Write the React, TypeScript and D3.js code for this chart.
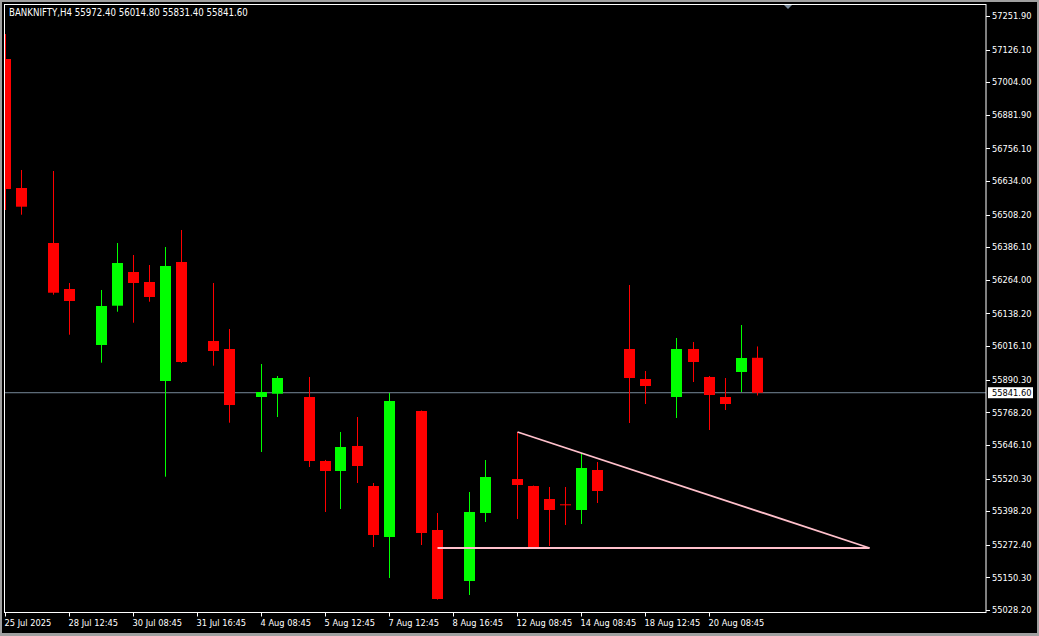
import * as d3 from "d3";

// H4 bars, null = empty slot on the chart
const opens = [57090.9, 56608.0, null, 56402.1, 56229.9, null, 56020.3, 56167.4, 56293.5, 56256.1, 55885.5, 56331.0, null, 56035.2, 56005.3, null, 55825.6, 55837.9, null, 55825.6, 55586.0, 55548.6, 55642.2, 55492.4, 55301.5, null, 55773.2, 55327.7, null, 55136.8, 55391.3, null, 55518.6, 55492.4, 55443.7, 55423.9, 55402.6, 55552.3, null, 56005.3, 55893.0, null, 55825.6, 56005.3, 55900.5, 55825.6, 55919.2, 55972.4];
const highs = [57184.5, 56675.4, null, 56671.6, 56252.4, null, 56226.2, 56402.1, 56357.2, 56319.7, 56387.1, 56450.8, null, 56252.4, 56080.2, null, 55949.1, 55904.2, null, 55900.5, 55590.0, 55694.6, 55750.7, 55503.6, 55840.6, null, 55775.0, 55391.3, null, 55469.9, 55589.7, null, 55694.6, 55494.0, 55488.7, 55488.7, 55615.9, 55582.3, null, 56244.9, 55922.9, null, 56046.5, 56031.5, 55904.2, 55896.7, 56095.1, 56014.8];
const lows = [56525.6, 56508.0, null, 56208.6, 56058.8, null, 55954.0, 56144.9, 56103.7, 56182.3, 55527.2, 55952.9, null, 55942.8, 55729.4, null, 55619.7, 55750.7, null, 55563.5, 55395.1, 55406.3, 55503.6, 55264.0, 55148.0, null, 55271.5, 55067.0, null, 55084.4, 55357.6, null, 55368.9, 55262.0, 55267.8, 55346.4, 55350.1, 55428.8, null, 55728.3, 55799.4, null, 55747.0, 55881.7, 55702.0, 55776.9, 55844.3, 55831.4];
const closes = [56604.3, 56538.0, null, 56216.0, 56185.0, null, 56166.3, 56327.2, 56252.4, 56200.0, 56316.0, 55956.6, null, 55997.8, 55795.6, null, 55844.3, 55896.7, null, 55586.0, 55548.6, 55638.4, 55567.3, 55309.0, 55810.6, null, 55316.5, 55069.4, null, 55395.1, 55526.1, null, 55496.2, 55264.0, 55402.6, 55423.9, 55559.8, 55473.7, null, 55896.7, 55866.8, null, 56005.3, 55956.6, 55833.1, 55799.4, 55971.6, 55841.6];

const timeTickIndex = [0, 4, 8, 12, 16, 20, 24, 28, 32, 36, 40, 44];
const timeTickLabels = ["25 Jul 2025", "28 Jul 12:45", "30 Jul 08:45", "31 Jul 16:45", "4 Aug 08:45", "5 Aug 12:45", "7 Aug 12:45", "8 Aug 16:45", "12 Aug 08:45", "14 Aug 08:45", "18 Aug 12:45", "20 Aug 08:45"];

const priceTicks = [57251.9, 57126.1, 57004.0, 56881.9, 56756.1, 56634.0, 56508.2, 56386.1, 56264.0, 56138.2, 56016.1, 55890.3, 55768.2, 55646.1, 55520.3, 55398.2, 55272.4, 55150.3, 55028.2];

// triangle drawn on the chart: [bar index, price]
const triangle = [
  [32, 55694.6],
  [54, 55260.3],
  [27, 55260.3],
];

const lastPrice = 55841.6;
const header = "BANKNIFTY,H4  55972.40 56014.80 55831.40 55841.60";

const W = 1039;
const H = 636;
const left = 5;
const right = 986;
const top = 5;
const bottom = 612.5;

const font = "'DejaVu Sans Condensed', 'DejaVu Sans', sans-serif";

export default function App() {
  const x = d3.scaleLinear().domain([0, 60]).range([5.5, 965.5]);
  const y = d3.scaleLinear().domain([55028.2, 57251.9]).range([610, 16]);

  const bars = opens.map((o, i) => ({ i, o, h: highs[i], l: lows[i], c: closes[i] })).filter((d) => d.o !== null);

  const triLine = d3
    .line<number[]>()
    .x((d) => x(d[0]))
    .y((d) => y(d[1]));

  return (
    <svg width={W} height={H} style={{ position: "absolute", left: 0, top: 0, display: "block" }}>
      <rect x={0} y={0} width={W} height={H} fill="#a0a0a0" />
      <rect x={2} y={2} width={W - 4} height={H - 5} fill="#000" />
      <defs>
        <clipPath id="plot">
          <rect x={left} y={top} width={right - left} height={bottom - top} />
        </clipPath>
      </defs>

      <g clipPath="url(#plot)">
        <line x1={left} x2={right} y1={y(lastPrice)} y2={y(lastPrice)} stroke="#778899" strokeWidth={1} />
        {bars.map((d) => {
          const col = (d.c as number) > (d.o as number) ? "#00ff00" : "#ff0000";
          const cx = Math.round(x(d.i)) - 0.5;
          const yt = y(Math.max(d.o as number, d.c as number));
          const yb = y(Math.min(d.o as number, d.c as number));
          return (
            <g key={d.i}>
              <line x1={cx} x2={cx} y1={y(d.h as number)} y2={y(d.l as number)} stroke={col} strokeWidth={1} />
              <rect x={cx - 5.5} y={yt} width={11} height={Math.max(1, yb - yt)} fill={col} />
            </g>
          );
        })}
        <path d={triLine([triangle[0], triangle[1]]) ?? ""} stroke="#ffc0cb" strokeWidth={1.8} fill="none" />
        <path d={triLine([triangle[2], triangle[1]]) ?? ""} stroke="#ffc0cb" strokeWidth={2} fill="none" />
      </g>

      {/* frame */}
      <rect x={4.5} y={4.5} width={right - 4.5} height={bottom - 4.5} fill="none" stroke="#fff" strokeWidth={1} />

      {/* shift marker */}
      <path d="M784,5 L792,5 L788,9 Z" fill="#778899" />

      <text x={9} y={16} fill="#fff" fontFamily={font} fontSize={9.6}>
        {header}
      </text>

      {/* price axis */}
      {priceTicks.map((p) => (
        <g key={p}>
          <line x1={right} x2={right + 4} y1={Math.round(y(p)) + 0.5} y2={Math.round(y(p)) + 0.5} stroke="#fff" />
          <text x={992} y={y(p)} dy="0.35em" fill="#fff" fontFamily={font} fontSize={9.2}>
            {p.toFixed(2)}
          </text>
        </g>
      ))}
      <rect x={988} y={y(lastPrice) - 5.5} width={45} height={11} fill="#fff" />
      <text x={992} y={y(lastPrice)} dy="0.35em" fill="#000" fontFamily={font} fontSize={9.2}>
        {lastPrice.toFixed(2)}
      </text>

      {/* time axis */}
      {timeTickIndex.map((ti, k) => {
        const tx = Math.round(x(ti)) - 0.5;
        return (
          <g key={ti}>
            <line x1={tx} x2={tx} y1={bottom} y2={bottom + 4} stroke="#fff" />
            <text x={tx - 1} y={623} dy="0.35em" fill="#fff" fontFamily={font} fontSize={9.2}>
              {timeTickLabels[k]}
            </text>
          </g>
        );
      })}
    </svg>
  );
}
